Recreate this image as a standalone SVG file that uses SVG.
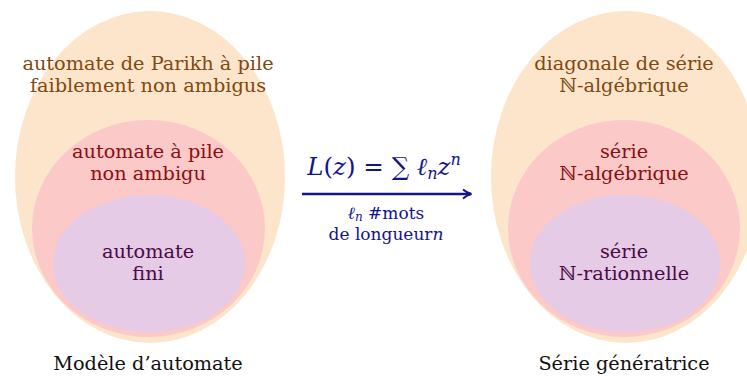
<svg xmlns="http://www.w3.org/2000/svg" width="747" height="376" viewBox="0 0 747 376">
<style>
.t{font-family:"DejaVu Serif","Liberation Serif",serif;font-size:19.3px;text-anchor:middle}
.o{fill:#FDE5CB}.m{fill:#FBC9C8}.i{fill:#E5CBE5}
.to{fill:#7D4A12}.tm{fill:#8A0F12}.ti{fill:#4A0A48}.tb{fill:#111}
.math{font-family:"DejaVu Serif","Liberation Serif",serif;fill:#14148A;text-anchor:middle}
</style>
<defs>
<marker id="ah" markerWidth="12" markerHeight="12" refX="9" refY="6" orient="auto" markerUnits="userSpaceOnUse">
<path d="M1,1.5 Q5,5 9.5,6 Q5,7 1,10.5" fill="none" stroke="#14148A" stroke-width="2"/>
</marker>
</defs>
<g id="left-outer"><ellipse class="o" cx="150" cy="177" rx="135" ry="166"/>
<text class="t to" x="148" y="70">automate de Parikh à pile</text>
<text class="t to" x="148" y="92">faiblement non ambigus</text></g>
<g id="left-middle"><ellipse class="m" cx="148.5" cy="228.5" rx="116.5" ry="108.5"/>
<text class="t tm" x="148" y="158">automate à pile</text>
<text class="t tm" x="148" y="180">non ambigu</text></g>
<g id="left-inner"><ellipse class="i" cx="149" cy="263.5" rx="96" ry="68.5"/>
<text class="t ti" x="148" y="258">automate</text>
<text class="t ti" x="148" y="280">fini</text></g>
<g id="left-caption"><text class="t tb" x="148" y="370">Modèle d’automate</text></g>

<g id="right-outer"><ellipse class="o" cx="626" cy="177" rx="135" ry="166"/>
<text class="t to" x="624" y="70">diagonale de série</text>
<text class="t to" x="624" y="92">ℕ-algébrique</text></g>
<g id="right-middle"><ellipse class="m" cx="624" cy="228.5" rx="116" ry="108.5"/>
<text class="t tm" x="624" y="158">série</text>
<text class="t tm" x="624" y="180">ℕ-algébrique</text></g>
<g id="right-inner"><ellipse class="i" cx="625" cy="263.5" rx="95" ry="68.5"/>
<text class="t ti" x="624" y="258">série</text>
<text class="t ti" x="624" y="280">ℕ-rationnelle</text></g>
<g id="right-caption"><text class="t tb" x="624" y="370">Série génératrice</text></g>

<g id="connectors">
<line x1="302" y1="194" x2="471" y2="194" stroke="#14148A" stroke-width="2.4" marker-end="url(#ah)"/>
<text class="math" x="384" y="175" font-size="24.5"><tspan font-style="italic">L</tspan>(<tspan font-style="italic">z</tspan>) = ∑ <tspan font-style="italic">ℓ</tspan><tspan font-style="italic" font-size="16" dy="4">n</tspan><tspan font-style="italic" dy="-4">z</tspan><tspan font-style="italic" font-size="16" dy="-10">n</tspan></text>
<text class="math" x="386" y="219" font-size="17"><tspan font-style="italic">ℓ</tspan><tspan font-style="italic" font-size="12" dy="2">n</tspan><tspan dy="-2"> #mots</tspan></text>
<text class="math" x="386" y="240" font-size="17">de longueur<tspan font-style="italic">n</tspan></text>
</g>
</svg>
